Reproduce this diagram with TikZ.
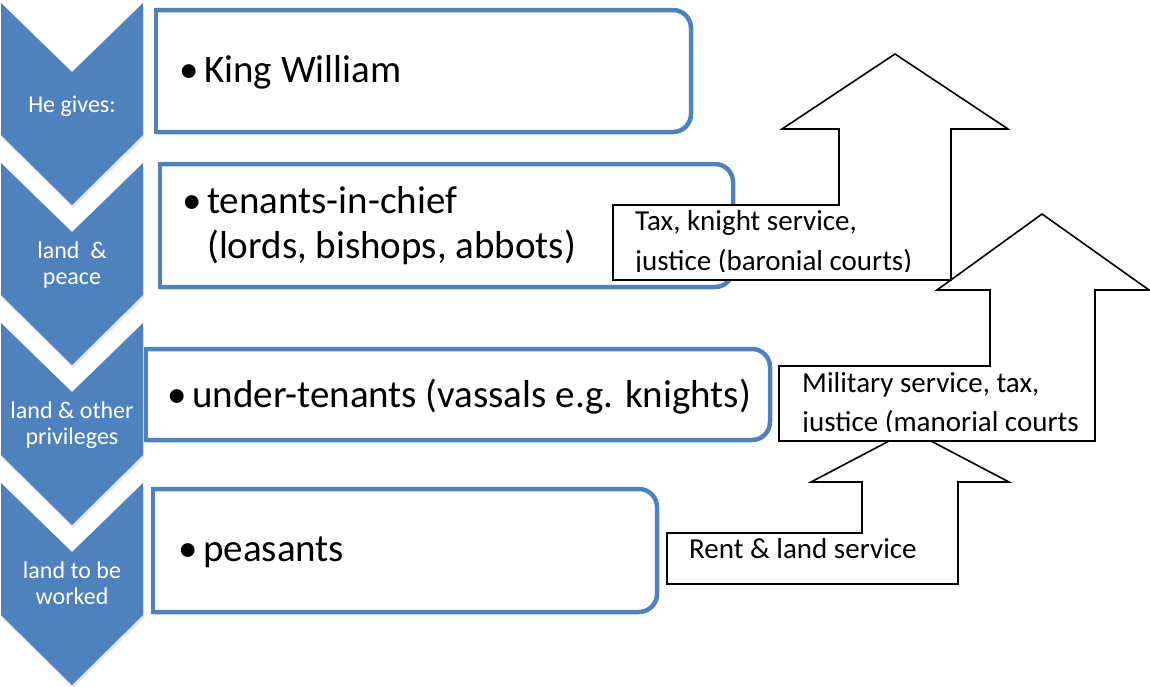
\documentclass[tikz,border=0pt]{standalone}
\usepackage{fontspec}
\setmainfont{Carlito}
\definecolor{officeblue}{HTML}{4F81BD}
\newcommand\rightroundedbox[1]{%
  \draw[blueline, rounded corners=18pt] (#1.north west) -- (#1.north east) -- (#1.south east) -- (#1.south west);
  \draw[blueline, line cap=rect] (#1.south west) -- (#1.north west);}
\begin{document}
\begin{tikzpicture}[x=1pt,y=-1pt,
  blueline/.style={draw=officeblue, line width=4.5pt},
  chev/.style={fill=officeblue},
  chevshadow/.style={fill=black, opacity=0.10},
  chevtext/.style={text=white, font=\fontsize{24}{26}\selectfont, anchor=base, inner sep=0pt},
  boxframe/.style={inner sep=0pt, outer sep=0pt, draw=none},
  boxtext/.style={font=\fontsize{39}{45}\selectfont, anchor=base west, inner sep=0pt},
  blockarrow/.style={draw=black, line width=1.6pt, fill=white, line join=miter},
  arrowtext/.style={font=\fontsize{29}{39}\selectfont, anchor=base west, inner sep=0pt},
]
\useasboundingbox (0,0) rectangle (1150,686);

% chevrons
\foreach \t in {3,163,323,483}{
  \fill[chevshadow] (2,\t+3) -- (73,\t+72) -- (144,\t+3) -- (144,\t+135) -- (73,\t+205) -- (2,\t+135) -- cycle;
  \fill[chev] (1,\t) -- (72,\t+69) -- (143,\t) -- (143,\t+132) -- (72,\t+202) -- (1,\t+132) -- cycle;
}
\node[chevtext] (c1) at (72,112) {He gives:};
\node[chevtext] (c2) at (72,258) {\begin{tabular}[t]{@{}c@{}}land\ \ \&\\peace\end{tabular}};
\node[chevtext] (c3) at (72,418) {\begin{tabular}[t]{@{}c@{}}land \& other\\privileges\end{tabular}};
\node[chevtext] (c4) at (72,578) {\begin{tabular}[t]{@{}c@{}}land to be\\worked\end{tabular}};

% blue boxes
\node[boxframe, minimum width=535pt, minimum height=122pt] (b1) at (423.5,71) {};
\node[boxframe, minimum width=573pt, minimum height=123pt] (b2) at (446.5,225.5) {};
\node[boxframe, minimum width=624pt, minimum height=91pt] (b3) at (458,394.5) {};
\node[boxframe, minimum width=504pt, minimum height=123pt] (b4) at (405,550.5) {};
\rightroundedbox{b1}
\rightroundedbox{b2}
\rightroundedbox{b3}
\rightroundedbox{b4}

\node[boxtext] (t1) at (204,82) {\llap{\textbullet\hspace{5pt}}King William};
\node[boxtext] (t2) at (207,213) {\begin{tabular}[t]{@{}l@{}}\llap{\textbullet\hspace{5pt}}tenants-in-chief\\(lords, bishops, abbots)\end{tabular}};
\node[boxtext] (t3) at (192,407) {\llap{\textbullet\hspace{5pt}}under-tenants (vassals e.g. knights)};
\node[boxtext] (t4) at (203,561) {\llap{\textbullet\hspace{5pt}}peasants};

% block arrow C (bottom)
\draw[blockarrow] (667,533) -- (862,533) -- (862,482) -- (811,482) -- (910,430) -- (1009,482) -- (958,482) -- (958,584) -- (667,584) -- cycle;
\node[arrowtext] (ac) at (689,558) {Rent \& land service};

% block arrow B (middle)
\draw[blockarrow] (779,366) -- (990,366) -- (990,290) -- (937,290) -- (1042,214) -- (1149,290) -- (1095,290) -- (1095,441) -- (779,441) -- cycle;
\begin{scope}
  \clip (779,366) rectangle (1095,431);
  \node[arrowtext, font=\fontsize{29}{39}\selectfont] (ab) at (802,392) {\begin{tabular}[t]{@{}l@{}}Military service, tax,\\justice (manorial courts\end{tabular}};
\end{scope}

% block arrow A (top)
\draw[blockarrow] (613,205) -- (839,205) -- (839,129) -- (782,129) -- (895,54) -- (1008,129) -- (951,129) -- (951,280) -- (613,280) -- cycle;
\begin{scope}
  \clip (613,205) rectangle (951,271);
  \node[arrowtext, font=\fontsize{29}{40}\selectfont] (aa) at (635,230) {\begin{tabular}[t]{@{}l@{}}Tax, knight service,\\justice (baronial courts)\end{tabular}};
\end{scope}
\end{tikzpicture}
\end{document}
